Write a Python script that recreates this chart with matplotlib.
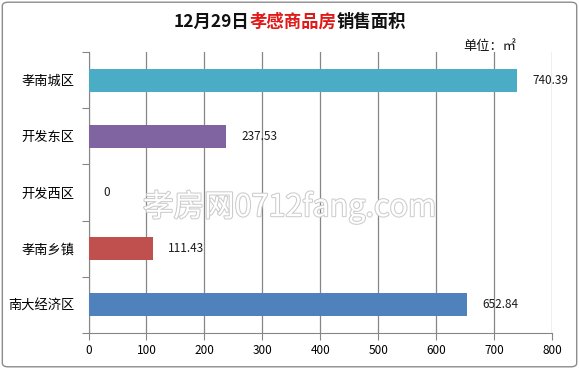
import matplotlib
matplotlib.use("Agg")
import matplotlib.pyplot as plt
from matplotlib.patches import FancyBboxPatch
import matplotlib.patheffects as pe

plt.rcParams['font.family'] = ['Noto Sans CJK SC', 'DejaVu Sans']

categories = ["孝南城区", "开发东区", "开发西区", "孝南乡镇", "南大经济区"]
values = [740.39, 237.53, 0, 111.43, 652.84]
labels = ["740.39", "237.53", "0", "111.43", "652.84"]
colors = ["#4BACC6", "#8064A2", "#9BBB59", "#C0504D", "#4F81BD"]
xticks = [0, 100, 200, 300, 400, 500, 600, 700, 800]
title_parts = [("12月29日", "#111111"), ("孝感商品房", "#e01818"), ("销售面积", "#111111")]

fig = plt.figure(figsize=(5.79, 3.69), dpi=100)
fig.patches.append(FancyBboxPatch((0.004, 0.006), 0.992, 0.988,
                                  boxstyle="round,pad=0,rounding_size=0.01",
                                  transform=fig.transFigure, fill=False,
                                  edgecolor="#8c8c8c", linewidth=1.0))

ax = fig.add_axes([88.5 / 579, 0.0976, (552 - 88.5) / 579, 0.7615])
ypos = list(range(len(categories)))
ax.barh(ypos, values, height=0.41, color=colors, zorder=3)
ax.set_ylim(len(categories) - 0.5, -0.5)
ax.set_xlim(0, 800)
ax.set_xticks(xticks)
ax.set_xticklabels([str(t) for t in xticks], fontsize=8.5)
ax.set_yticks(ypos)
ax.set_yticklabels(categories, fontsize=9.5)
ax.tick_params(axis='y', length=0, pad=10)
ax.set_yticks([i - 0.5 for i in range(len(categories) + 1)], minor=True)
ax.tick_params(axis='y', which='minor', length=5, color="#868686", width=0.8)
ax.tick_params(axis='x', length=5, color="#868686", width=0.8, pad=3)
ax.grid(axis='x', color="#868686", linewidth=0.9, zorder=0)
for s in ['top', 'right']:
    ax.spines[s].set_visible(False)
for s in ['left', 'bottom']:
    ax.spines[s].set_color("#868686")
    ax.spines[s].set_linewidth(0.8)

for y, v, l in zip(ypos, values, labels):
    ax.annotate(l, (v, y), xytext=(11, 0), textcoords="offset points",
                va="center", ha="left", fontsize=8.5, color="#1a1a1a", zorder=4)

# title built from coloured pieces, laid out by measured widths
renderer = fig.canvas.get_renderer()
texts = []
for s, c in title_parts:
    t = fig.text(0, 0.94, s, ha="left", va="center", fontsize=12.5,
                 fontweight="bold", color=c)
    texts.append(t)
widths = [t.get_window_extent(renderer).width for t in texts]
total = sum(widths)
x = (290 - total / 2)
for t, w in zip(texts, widths):
    t.set_x(x / 579)
    x += w

fig.text(0.80, 0.875, "单位：㎡", ha="left", va="center", fontsize=9.5, color="#111111")

# watermark
wm = fig.text(0.5, 0.44, "孝房网0712fang.com", ha="center", va="center", fontsize=22,
              color="white", zorder=2)
wm.set_path_effects([pe.withStroke(linewidth=1.5, foreground="#cccccc")])

fig.savefig("out.png", dpi=100)
